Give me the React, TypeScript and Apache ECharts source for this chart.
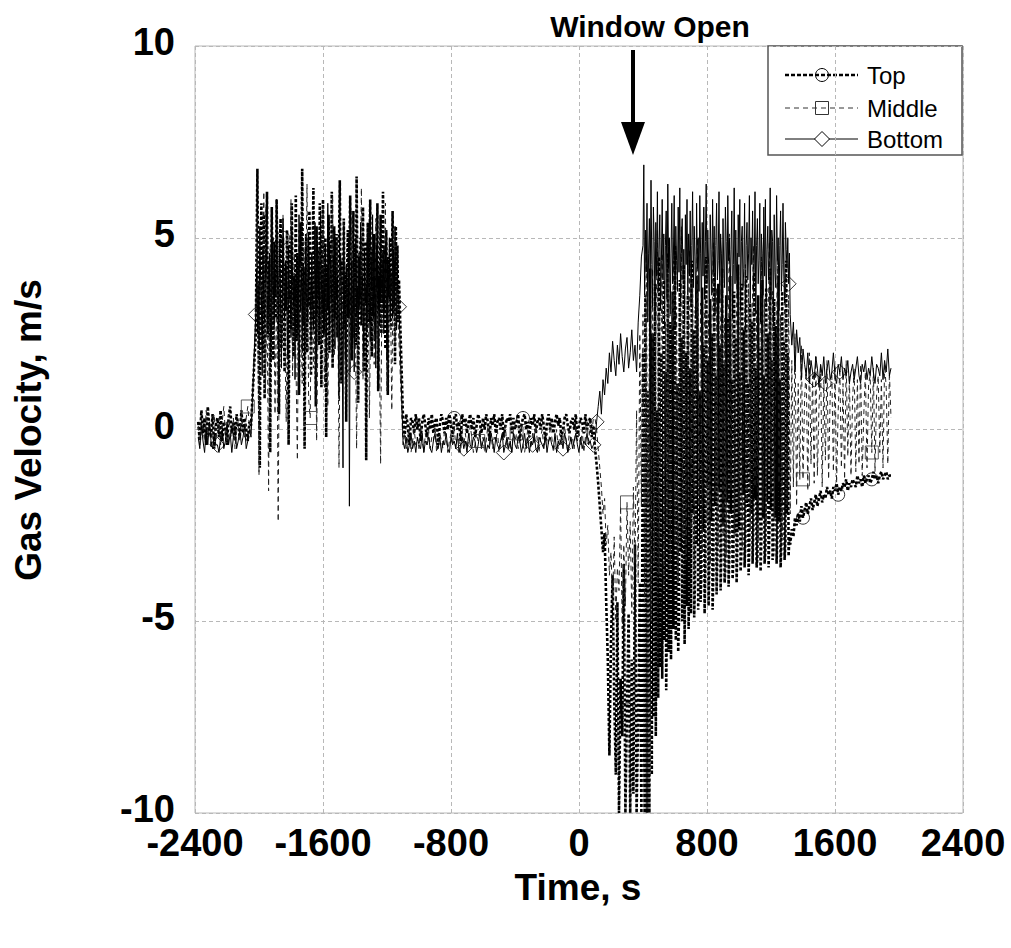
import React, { useEffect, useRef } from "react";
import * as echarts from "echarts";

// start time (s) of each recorded segment, and sample step (s) per segment for each series
const segmentStarts = [-2380, -2020, -1100, 100, 400, 1320];
const topSteps = [10, 5, 10, 10, 5, 10];
const midSteps = [10, 10, 10, 10, 10, 10];
const botSteps = [10, 5, 10, 10, 5, 10];

// ---------- Top ----------
const topA = [
  0.2, -0.3, 0.5, -0.1, 0.3, -0.4, 0.6, 0.0, -0.2, 0.4,
  -0.5, 0.1, 0.3, -0.2, 0.5, -0.3, 0.2, 0.0, -0.4, 0.3,
  0.6, -0.1, 0.2, -0.3, 0.4, 0.1, -0.2, 0.5, -0.1, 0.3,
  0.0, -0.3, 0.2, 0.1,
];
const topB = [
  2.5, 4.8, 6.8, 3.0, 1.2, -1.0, 4.5, 5.9, 3.0, 2.0,
  5.6, 0.8, 3.9, 4.6, 6.2, 2.4, 3.3, 4.4, -0.6, 3.5,
  5.8, 2.9, 1.8, 4.9, 3.6, 2.9, 6.0, 4.1, 3.3, 0.4,
  4.7, 5.5, 2.1, 3.8, 5.0, 3.0, 1.5, 4.3, 3.1, 5.2,
  4.0, -0.4, 3.7, 4.9, 2.6, 5.9, 3.2, 1.9, 4.0, 3.4,
  6.1, 2.3, 4.6, 3.6, 0.9, 3.6, 5.4, 4.2, 6.8, 2.7,
  4.2, -0.5, 3.9, 5.1, 2.0, 4.8, 3.2, 5.7, 3.8, 1.4,
  3.5, 4.4, 6.3, 2.8, 4.1, 0.6, 5.3, 3.0, 4.7, 2.2,
  5.9, 3.6, 1.1, 4.5, 6.0, 2.5, 3.8, 5.0, -0.2, 4.3,
  3.1, 5.6, 2.0, 4.9, 3.4, 6.2, 1.6, 4.0, 5.3, 2.9,
  3.7, 5.1, 2.4, 3.9, 4.8, 6.5, 3.0, 1.2, 4.4, 3.6,
  5.5, 2.6, 4.1, 0.2, 3.8, 5.2, 2.9, 4.6, 6.1, 3.3,
  1.8, 4.3, 5.7, 3.1, 4.8, 2.2, 6.6, 3.9, 0.7, 4.5,
  3.4, 5.0, 2.7, 4.2, 5.8, 1.5, 3.6, 4.9, -0.8, 3.2,
  5.4, 2.8, 4.4, 6.0, 3.5, 1.9, 4.7, 3.0, 5.1, 2.3,
  4.6, 3.7, 5.9, 1.0, 4.0, 3.3, 5.6, 2.5, 4.3, 6.2,
  3.1, 4.8, 2.1, 5.2, 3.9, 0.9, 4.5, 3.4, 5.0, 2.6,
  4.1, 5.7, 3.0, 4.4, 1.7, 5.3, 3.6, 4.8, 2.8, 3.9,
];
const topC = [
  0.3, -0.2, 0.4, 0.1, -0.4, 0.3, 0.2, -0.1, 0.4, 0.0,
  0.3, -0.3, 0.2, 0.4, 0.1, -0.2, 0.3, 0.0, 0.4, -0.1,
  0.2, 0.3, -0.4, 0.1, 0.4, 0.2, -0.1, 0.3, 0.0, 0.4,
  0.1, -0.2, 0.3, 0.4, 0.0, 0.2, -0.3, 0.4, 0.1, 0.3,
  -0.1, 0.2, 0.4, 0.0, 0.3, -0.2, 0.1, 0.4, 0.2, -0.1,
  0.3, 0.0, 0.4, 0.2, -0.3, 0.3, 0.1, 0.4, -0.1, 0.2,
  0.3, 0.0, 0.4, -0.2, 0.1, 0.3, 0.2, 0.4, -0.1, 0.3,
  0.0, 0.2, 0.4, -0.3, 0.1, 0.3, 0.4, 0.0, 0.2, -0.2,
  0.3, 0.1, 0.4, -0.1, 0.2, 0.3, 0.0, 0.4, 0.1, -0.3,
  0.2, 0.4, 0.0, 0.3, -0.1, 0.2, 0.4, 0.1, 0.3, -0.2,
  0.0, 0.3, 0.4, 0.1, -0.1, 0.2, 0.3, 0.0, 0.4, -0.2,
  0.1, 0.3, 0.2, -0.1, 0.4, 0.0, 0.2, 0.3, -0.2, 0.1,
];
const topD = [
  -0.5, -0.9, -1.4, -2.0, -2.6, -3.2, -2.7, -4.5, -6.0, -8.5,
  -5.5, -3.8, -7.0, -9.0, -4.5, -10.0, -6.5, -8.0, -3.5, -10.0,
  -7.3, -4.8, -10.0, -6.0, -9.5, -3.0, -10.0, -7.5, -4.0, -10.0,
];
const topE = [
  2.0, -6.0, -10.0, 3.5, -4.0, -10.0, 1.0, -8.5, -10.0, 4.2,
  -3.5, -9.0, 2.5, -7.5, -5.0, 3.8, -8.0, -2.0, 0.5, -7.0,
  4.5, -6.2, -4.0, 2.0, -6.5, -1.5, 3.9, -5.5, 1.5, -6.8,
  -4.5, 4.6, -5.8, -2.0, 2.8, -6.0, -3.5, 3.6, -5.2, 0.5,
  4.8, -5.5, -2.5, 1.2, -5.8, -4.9, 3.9, -3.2, 2.4, -5.0,
  -1.5, 4.3, -5.6, -2.8, 2.0, -4.6, 3.5, -5.2, -3.6, 1.6,
  -4.8, 4.4, -2.2, 2.6, -4.9, -4.0, 3.2, -3.0, 4.0, -4.7,
  -1.8, 1.0, -4.5, -3.8, 3.7, -2.6, 2.2, -4.8, -3.5, 4.5,
  -1.5, 1.8, -4.6, -3.4, 3.4, -2.4, 2.5, -4.7, -3.7, 4.1,
  -2.0, 1.4, -4.3, -3.3, 3.8, -1.6, 2.2, -4.2, -3.2, 4.2,
  -2.5, 1.7, -4.0, -3.6, 3.5, -1.9, 2.9, -4.1, -3.1, 4.0,
  -2.2, 1.3, -3.9, -3.4, 3.6, -2.7, 2.4, -4.0, -3.0, 4.3,
  -2.6, 1.5, -3.7, -3.2, 3.8, -1.7, 2.6, -3.6, -2.9, 4.0,
  -2.0, 1.2, -3.8, -3.0, 3.3, -2.2, 2.8, -3.5, -2.5, 4.1,
  -1.8, 1.6, -3.6, -3.3, 3.5, -2.4, 2.1, -3.7, -2.8, 3.9,
  -2.3, 1.4, -3.5, -3.1, 3.7, -1.9, 2.5, -3.6, -2.6, 4.2,
  -2.1, 1.8, -3.4, -3.2, 3.4, -2.3, 2.7, -3.5, -2.7, 4.0,
  -2.4, 1.3, -3.6, -3.0, 3.6, -2.0, 2.3, -3.4, -2.9, 4.4,
  -2.2, 2.0, -3.3, -2.8,
];
const topF = [
  -3.0, -2.6, -2.8, -2.3, -2.5, -2.2, -2.4, -2.0, -2.3, -2.1,
  -1.9, -2.2, -2.0, -1.8, -2.1, -1.9, -1.7, -2.0, -1.8, -1.6,
  -1.9, -1.7, -1.8, -1.5, -1.7, -1.6, -1.8, -1.5, -1.6, -1.4,
  -1.7, -1.5, -1.6, -1.4, -1.5, -1.3, -1.6, -1.4, -1.5, -1.3,
  -1.4, -1.5, -1.2, -1.4, -1.3, -1.5, -1.2, -1.4, -1.3, -1.2,
  -1.4, -1.3, -1.1, -1.3, -1.2, -1.4, -1.2, -1.1, -1.3, -1.2,
  -1.1, -1.3, -1.2, -1.2,
];

// ---------- Middle ----------
const midA = [
  0.1, -0.4, 0.3, 0.0, -0.3, 0.5, -0.2, 0.2, -0.5, 0.1,
  0.4, -0.3, 0.0, 0.3, -0.4, 0.2, 0.6, -0.1, -0.3, 0.4,
  0.0, -0.2, 0.3, -0.5, 0.1, 0.2, -0.3, 0.5, 0.0, -0.2,
  0.3, 0.6, 0.1, -0.1,
];
const midB = [
  3.0, 5.5, -1.2, 4.0, 2.2, 6.2, 1.0, 3.5, -1.6, 4.8,
  2.6, 5.0, 0.4, 3.8, -2.4, 4.4, 1.8, 5.6, 2.9, 0.2,
  4.1, 3.3, 6.0, 1.4, 4.6, 2.0, -0.8, 5.2, 3.6, 1.2,
  4.9, 2.5, 6.4, 0.8, 0.3, 4.5, 1.6, 5.3, -0.3, 3.0,
  4.7, 2.3, 5.8, 1.1, 3.7, 0.6, 4.3, 2.8, 6.1, 1.9,
  3.4, 5.0, -1.0, 4.2, 2.7, 5.4, 0.9, 3.6, 4.8, 1.5,
  5.7, 2.4, 3.9, -0.5, 4.4, 3.1, 6.3, 1.3, 4.0, 2.6,
  5.1, 0.3, 3.8, 4.6, 1.7, 5.5, 2.1, 3.3, -0.9, 4.7,
  2.9, 5.9, 1.0, 3.5, 4.1, 0.5, 5.2, 2.2, 3.7, 2.8,
];
const midC = [
  -0.4, -0.1, -0.5, -0.2, 0.1, -0.6, -0.3, 0.0, -0.4, -0.2,
  -0.5, 0.1, -0.3, -0.6, -0.1, -0.4, 0.0, -0.5, -0.2, -0.3,
  0.1, -0.6, -0.4, -0.1, -0.3, -0.5, 0.0, -0.2, -0.6, -0.3,
  -0.1, -0.4, 0.1, -0.5, -0.2, -0.3, -0.6, 0.0, -0.4, -0.1,
  -0.5, -0.3, 0.1, -0.2, -0.6, -0.4, -0.1, -0.3, 0.0, -0.5,
  -0.2, -0.6, -0.3, 0.1, -0.4, -0.1, -0.5, -0.2, -0.3, 0.0,
  -0.6, -0.4, -0.1, -0.3, 0.1, -0.5, -0.2, -0.4, -0.6, 0.0,
  -0.3, -0.1, -0.5, -0.2, 0.1, -0.4, -0.6, -0.3, 0.0, -0.2,
  -0.5, -0.1, -0.4, 0.1, -0.3, -0.6, -0.2, 0.0, -0.5, -0.3,
  -0.1, -0.4, 0.1, -0.2, -0.6, -0.3, 0.0, -0.5, -0.1, -0.4,
  -0.2, 0.1, -0.3, -0.6, 0.0, -0.4, -0.2, -0.5, 0.1, -0.3,
  -0.1, -0.4, 0.0, -0.6, -0.2, 0.2, -0.3, 0.1, -0.1, 0.3,
];
const midD = [
  0.3, 0.0, -0.5, -1.0, -1.5, -2.2, -1.8, -3.0, -2.5, -3.8,
  -3.2, -4.5, -2.8, -5.0, -3.6, -4.2, -2.0, -5.2, -3.0, -4.6,
  -1.9, -3.8, -2.4, -4.8, -1.5, -3.5, 0.5, -4.0, 2.5, -2.0,
];
const midE = [
  3.0, -4.5, 4.8, -2.0, 1.5, -5.0, 4.2, -3.5, 2.5, 5.2,
  -3.8, 1.0, 4.6, -4.2, 2.8, -2.5, 5.0, -3.6, 1.8, 4.4,
  -3.0, 3.2, -4.0, 2.0, 5.3, -2.8, 3.6, -3.4, 1.2, 4.7,
  -2.6, 3.9, -3.8, 2.2, 5.0, -2.0, 3.3, -3.2, 1.6, 4.5,
  -2.4, 3.0, -3.5, 2.6, 4.9, -1.8, 3.7, -3.0, 1.4, 4.2,
  -2.7, 2.9, -3.3, 2.1, 5.1, -1.6, 3.5, -2.8, 1.9, 4.6,
  -2.2, 3.2, -3.1, 1.5, 4.3, -1.9, 3.8, -2.6, 2.4, 4.8,
  -1.5, 3.1, -2.9, 1.8, 4.5, -2.1, 3.4, -2.5, 2.0, 4.9,
  -1.7, 3.6, -2.3, 1.3, 4.4, -1.4, 3.0, -2.8, 2.3, 4.1,
  -2.0, 3.5,
];
const midF = [
  -2.2, 1.8, -1.5, 2.5, -2.0, 1.2, -1.3, 2.2, -1.3, 0.8,
  1.6, -1.6, 2.0, -0.9, 1.4, -1.4, 1.9, -1.2, 0.6, 1.7,
  -1.5, 1.3, -0.8, 1.8, -1.3, 0.9, 1.5, -1.1, 1.7, -1.4,
  0.5, 1.6, -1.0, 1.2, -1.3, 1.8, -0.7, 1.4, -1.2, 0.8,
  1.6, -1.1, 1.3, -0.9, 1.7, -1.2, 0.4, 1.5, -1.0, 1.2,
  1.4, -0.6, 1.6, -1.1, 0.9, 1.4, -0.6, 1.3, -1.0, 1.7,
  1.1, -0.9, 1.5, 0.3,
];

// ---------- Bottom ----------
const botA = [
  -0.2, -0.5, 0.1, -0.3, -0.6, 0.0, -0.4, 0.2, -0.3, -0.5,
  -0.1, -0.4, -0.4, -0.6, -0.2, 0.0, -0.5, -0.3, 0.2, -0.4,
  -0.1, -0.6, -0.2, 0.1, -0.5, -0.3, 0.0, -0.4, -0.2, 0.1,
  -0.5, -0.3, 0.0, -0.2,
];
const botB = [
  3.0, 4.2, 2.5, 3.8, 2.1, 5.3, 4.0, 3.6, 1.4, 4.7,
  3.2, 2.8, 3.9, 5.8, 4.4, 2.5, 3.4, 4.6, 3.0, 1.8,
  3.1, 5.0, 3.7, 2.7, 4.1, 3.5, 6.0, 4.3, 2.2, 3.8,
  4.9, 3.2, 1.6, 3.3, 5.5, 4.0, 2.9, 4.4, 3.6, 3.0,
  1.9, 4.8, 3.4, 3.6, 2.4, 5.2, 3.9, 3.2, 4.0, 1.3,
  3.7, 4.5, 2.9, 2.6, 5.6, 3.8, 3.1, 4.2, 2.0, 4.3,
  3.8, 1.1, 4.7, 3.5, 3.4, 2.8, 5.1, 4.1, 3.9, 2.3,
  4.6, 3.3, 2.6, 4.0, 5.4, 3.1, 1.7, 4.9, 3.5, 4.4,
  2.7, 5.7, 3.9, 3.0, 4.2, 2.4, 3.6, 4.8, 1.5, 3.7,
  5.9, 3.2, 2.7, 4.5, 4.2, 3.2, 1.9, 4.5, 3.6, 2.1,
  5.0, 3.4, 4.0, 2.6, 0.8, 3.8, 4.6, 3.1, 2.4, -1.0,
  5.3, 3.1, 1.8, 4.3, 3.5, 2.9, 4.9, -2.0, 3.3, 3.6,
  4.4, 2.2, 3.9, 1.5, 4.1, 5.0, 3.0, 3.7, 2.5, 4.6,
  3.2, 5.4, 2.8, 4.0, 3.5, 1.9, 4.7, 3.3, 3.8, 2.6,
  5.1, 4.2, 3.0, 2.3, 4.5, 3.7, 5.6, 2.9, 4.0, 3.4,
  1.6, 4.8, 3.6, 3.1, 4.3, 2.7, 5.2, 3.9, 3.3, 4.6,
  2.5, 3.8, 4.9, 3.0, 1.8, 4.4, 3.5, 5.0, 2.8, 4.1,
  3.6, 2.9, 4.7, 3.2, 5.3, 3.9, 2.6, 4.2, 3.4, 3.2,
];
const botC = [
  -0.3, -0.5, -0.2, -0.6, -0.4, -0.1, -0.5, -0.3, -0.6, -0.2,
  -0.4, -0.5, -0.1, -0.6, -0.3, -0.4, -0.2, -0.5, -0.6, -0.3,
  -0.1, -0.4, -0.5, -0.2, -0.6, -0.3, -0.4, -0.1, -0.5, -0.6,
  -0.2, -0.4, -0.3, -0.5, -0.1, -0.6, -0.4, -0.2, -0.5, -0.3,
  -0.6, -0.1, -0.4, -0.5, -0.2, -0.3, -0.6, -0.4, -0.1, -0.5,
  -0.3, -0.2, -0.6, -0.4, -0.5, -0.1, -0.3, -0.6, -0.2, -0.4,
  -0.5, -0.3, -0.1, -0.6, -0.4, -0.2, -0.5, -0.3, -0.6, -0.1,
  -0.4, -0.5, -0.2, -0.3, -0.6, -0.4, -0.1, -0.5, -0.2, -0.6,
  -0.3, -0.4, -0.1, -0.5, -0.6, -0.2, -0.3, -0.4, -0.5, -0.1,
  -0.6, -0.3, -0.2, -0.4, -0.5, -0.1, -0.6, -0.3, -0.4, -0.2,
  -0.5, -0.1, -0.3, -0.6, -0.4, -0.2, -0.5, -0.3, -0.1, -0.4,
  -0.6, -0.2, -0.5, -0.3, -0.4, -0.1, -0.4, -0.3, -0.5, -0.4,
];
const botD = [
  -0.3, 0.2, 0.6, 1.0, 0.4, 1.3, 0.9, 1.6, 1.2, 2.0,
  1.5, 2.3, 1.8, 1.4, 2.2, 1.7, 2.5, 1.9, 1.5, 2.1,
  2.4, 1.6, 2.0, 2.6, 1.8, 2.2, 1.5, 2.8, 3.5, 4.5,
];
const botE = [
  4.8, 6.9, 3.5, 5.2, 4.1, 5.9, 2.8, 4.6, 5.5, 3.7,
  6.5, 4.3, 3.2, 5.8, 4.9, 2.9, 5.4, 4.0, 6.2, 3.6,
  4.7, 5.6, 3.1, 4.4, 6.0, 3.9, 5.1, 2.7, 4.8, 5.7,
  3.4, 6.4, 4.2, 5.0, 3.0, 4.6, 5.9, 3.8, 4.5, 6.1,
  2.6, 5.3, 4.4, 3.6, 5.8, 4.1, 6.3, 3.3, 4.9, 5.5,
  3.9, 4.7, 2.8, 5.6, 4.3, 6.0, 3.5, 5.1, 4.0, 5.7,
  3.2, 4.8, 6.2, 3.7, 5.3, 4.5, 2.9, 5.9, 4.2, 5.0,
  3.6, 6.1, 4.6, 3.1, 5.4, 4.0, 5.8, 3.4, 4.9, 6.4,
  3.8, 5.2, 4.3, 2.7, 5.6, 4.7, 3.5, 6.0, 4.1, 5.3,
  3.0, 4.8, 5.9, 3.9, 4.4, 6.2, 3.3, 5.1, 4.6, 2.8,
  5.5, 4.2, 3.7, 5.8, 4.9, 3.2, 6.1, 4.4, 5.0, 3.6,
  4.7, 5.7, 2.9, 4.3, 6.3, 3.8, 5.2, 4.0, 3.4, 5.6,
  4.5, 6.0, 3.1, 4.9, 5.3, 3.7, 4.2, 5.9, 2.6, 4.8,
  5.4, 3.9, 4.6, 6.1, 3.3, 5.0, 4.3, 5.7, 3.6, 4.1,
  6.2, 3.0, 4.8, 5.5, 3.8, 4.4, 5.9, 2.8, 5.1, 4.6,
  3.5, 5.8, 4.0, 6.0, 3.2, 4.7, 5.3, 3.9, 4.5, 6.3,
  3.4, 5.2, 4.9, 2.7, 5.6, 4.1, 3.7, 6.1, 4.4, 5.0,
  3.1, 4.8, 5.7, 3.6, 4.3, 5.9, 4.0, 3.3, 5.4, 4.7,
  4.2, 5.0, 3.8, 4.6,
];
const botF = [
  3.0, 2.2, 2.8, 1.5, 2.6, 2.0, 2.4, 1.3, 2.1, 1.7,
  1.4, 2.0, 1.2, 1.8, 1.5, 1.3, 1.9, 1.6, 1.1, 1.7,
  1.4, 1.9, 1.2, 1.6, 1.8, 1.3, 1.5, 2.0, 1.4, 1.2,
  1.7, 1.5, 1.9, 1.3, 1.6, 1.4, 1.8, 1.2, 1.5, 1.7,
  1.3, 1.6, 1.9, 1.4, 1.2, 1.7, 1.5, 1.8, 1.3, 1.6,
  1.4, 1.9, 1.5, 1.2, 1.7, 1.6, 1.4, 2.0, 1.3, 1.8,
  1.5, 2.1, 1.4, 1.6,
];

// times at which markers are shown
const topMarkerTimes = [-1850, -780, -350, 300, 550, 1400, 1620, 1830];
const midMarkerTimes = [-2070, -1680, -630, -390, 300, 540, 1400, 1830];
const botMarkerTimes = [-2260, -2020, -1405, -1125, -720, -470, -290, -100, 90, 110, 1310, 1470, 1540, 1630];

const xTicks = { min: -2400, max: 2400, interval: 800 };
const yTicks = { min: -10, max: 10, interval: 5 };

const FONT = "'Liberation Sans', Arial, Helvetica, sans-serif";

function build(segs: number[][], steps: number[]): number[][] {
  const out: number[][] = [];
  segs.forEach((s, k) => {
    s.forEach((v, i) => out.push([segmentStarts[k] + i * steps[k], v]));
  });
  return out;
}

function pick(data: number[][], times: number[]): number[][] {
  return times.map((t) => {
    let best = data[0];
    for (const p of data) if (Math.abs(p[0] - t) < Math.abs(best[0] - t)) best = p;
    return best;
  });
}

export default function App() {
  const ref = useRef<HTMLDivElement>(null);
  useEffect(() => {
    if (!ref.current) return;
    const chart = echarts.init(ref.current, null, { renderer: "svg" });
    const top = build([topA, topB, topC, topD, topE, topF], topSteps);
    const mid = build([midA, midB, midC, midD, midE, midF], midSteps);
    const bot = build([botA, botB, botC, botD, botE, botF], botSteps);

    const gl = { left: 195, top: 46, width: 768, height: 767 };
    const lx1 = 785, lx2 = 858, lcx = 822;
    const ly = [75, 108, 139];

    chart.setOption({
      animation: false,
      backgroundColor: "#fff",
      grid: { ...gl, show: true, borderColor: "#b8b8b8", borderWidth: 1, backgroundColor: "transparent" },
      xAxis: {
        type: "value",
        ...xTicks,
        axisLine: { show: false },
        axisTick: { show: false },
        splitLine: { show: true, lineStyle: { color: "#b8b8b8", type: [4, 3], width: 1 } },
        axisLabel: {
          color: "#000",
          fontFamily: FONT,
          fontWeight: "bold",
          fontSize: 38,
          lineHeight: 30,
          margin: 15,
          formatter: (v: number) => String(v),
        },
      },
      yAxis: {
        type: "value",
        ...yTicks,
        axisLine: { show: false },
        axisTick: { show: false },
        splitLine: { show: true, lineStyle: { color: "#b8b8b8", type: [4, 3], width: 1 } },
        axisLabel: {
          color: "#000",
          fontFamily: FONT,
          fontWeight: "bold",
          fontSize: 38,
          lineHeight: 8,
          verticalAlign: "bottom",
          margin: 20,
          formatter: (v: number) => String(v),
        },
      },
      series: [
        {
          name: "Top",
          type: "line",
          data: top,
          showSymbol: false,
          symbol: "none",
          lineStyle: { color: "#000", width: 2.6, type: [3, 2] },
          z: 2,
        },
        {
          name: "Middle",
          type: "line",
          data: mid,
          showSymbol: false,
          symbol: "none",
          lineStyle: { color: "#222", width: 1, type: [5, 4] },
          z: 3,
        },
        {
          name: "Bottom",
          type: "line",
          data: bot,
          showSymbol: false,
          symbol: "none",
          lineStyle: { color: "#000", width: 1 },
          z: 4,
        },
        {
          name: "TopMarkers",
          type: "scatter",
          data: pick(top, topMarkerTimes),
          symbol: "circle",
          symbolSize: 13,
          itemStyle: { color: "rgba(0,0,0,0)", borderColor: "#000", borderWidth: 1 },
          z: 5,
        },
        {
          name: "MiddleMarkers",
          type: "scatter",
          data: pick(mid, midMarkerTimes),
          symbol: "rect",
          symbolSize: 13,
          itemStyle: { color: "rgba(0,0,0,0)", borderColor: "#333", borderWidth: 1 },
          z: 5,
        },
        {
          name: "BottomMarkers",
          type: "scatter",
          data: pick(bot, botMarkerTimes),
          symbol: "diamond",
          symbolSize: [15, 15],
          itemStyle: { color: "rgba(0,0,0,0)", borderColor: "#000", borderWidth: 1 },
          z: 5,
        },
      ],
      graphic: [
        {
          type: "text",
          x: 28,
          y: 430,
          rotation: Math.PI / 2,
          style: {
            text: "Gas Velocity, m/s",
            font: `bold 37px ${FONT}`,
            fill: "#000",
            align: "center",
            verticalAlign: "middle",
          },
        },
        {
          type: "text",
          x: 578,
          y: 887,
          style: {
            text: "Time, s",
            font: `bold 37px ${FONT}`,
            fill: "#000",
            align: "center",
            verticalAlign: "middle",
          },
        },
        {
          type: "text",
          x: 650,
          y: 26,
          style: {
            text: "Window Open",
            font: `bold 30px ${FONT}`,
            fill: "#000",
            align: "center",
            verticalAlign: "middle",
          },
        },
        {
          type: "line",
          shape: { x1: 633, y1: 50, x2: 633, y2: 125 },
          style: { stroke: "#000", lineWidth: 4 },
          z: 20,
        },
        {
          type: "polygon",
          shape: { points: [[621, 122], [645, 122], [633, 155]] },
          style: { fill: "#000" },
          z: 20,
        },
        {
          type: "group",
          z: 30,
          children: [
            {
              type: "rect",
              shape: { x: 768, y: 46, width: 194, height: 109 },
              style: { fill: "#fff", stroke: "#555", lineWidth: 1.5 },
            },
            {
              type: "line",
              shape: { x1: lx1, y1: ly[0], x2: lx2, y2: ly[0] },
              style: { stroke: "#000", lineWidth: 2.6, lineDash: [4, 2] },
            },
            {
              type: "circle",
              shape: { cx: lcx, cy: ly[0], r: 6.5 },
              style: { fill: "rgba(0,0,0,0)", stroke: "#000", lineWidth: 1 },
            },
            {
              type: "line",
              shape: { x1: lx1, y1: ly[1], x2: lx2, y2: ly[1] },
              style: { stroke: "#333", lineWidth: 1, lineDash: [5, 4] },
            },
            {
              type: "rect",
              shape: { x: lcx - 6.5, y: ly[1] - 6.5, width: 13, height: 13 },
              style: { fill: "rgba(0,0,0,0)", stroke: "#333", lineWidth: 1 },
            },
            {
              type: "line",
              shape: { x1: lx1, y1: ly[2], x2: lx2, y2: ly[2] },
              style: { stroke: "#000", lineWidth: 1 },
            },
            {
              type: "polygon",
              shape: { points: [[lcx - 7.5, ly[2]], [lcx, ly[2] - 7.5], [lcx + 7.5, ly[2]], [lcx, ly[2] + 7.5]] },
              style: { fill: "#fff", stroke: "#000", lineWidth: 1 },
            },
            {
              type: "text",
              x: 867,
              y: ly[0],
              style: { text: "Top", font: `24px ${FONT}`, fill: "#000", verticalAlign: "middle" },
            },
            {
              type: "text",
              x: 867,
              y: ly[1],
              style: { text: "Middle", font: `24px ${FONT}`, fill: "#000", verticalAlign: "middle" },
            },
            {
              type: "text",
              x: 867,
              y: ly[2],
              style: { text: "Bottom", font: `24px ${FONT}`, fill: "#000", verticalAlign: "middle" },
            },
          ],
        },
      ],
    });
    return () => chart.dispose();
  }, []);

  return (
    <div
      ref={ref}
      style={{ position: "fixed", left: 0, top: 0, width: 1011, height: 948, background: "#fff" }}
    />
  );
}
